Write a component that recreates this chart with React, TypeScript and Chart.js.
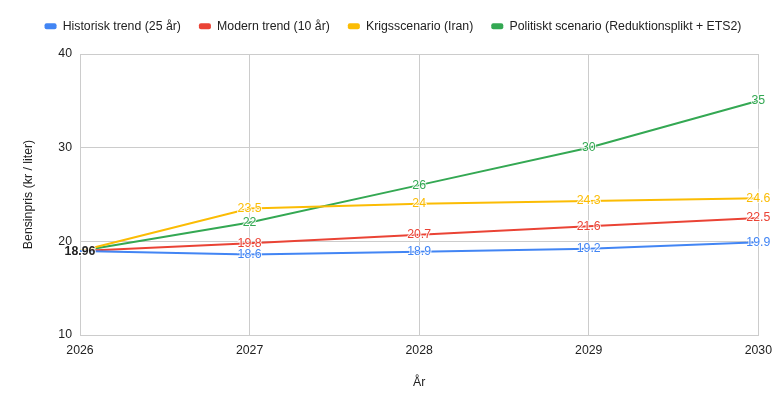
import React, { useEffect, useRef } from "react";
import { Chart, registerables } from "chart.js";

Chart.register(...registerables);

const years = ["2026", "2027", "2028", "2029", "2030"];
const historisk = [18.96, 18.6, 18.9, 19.2, 19.9];
const modern = [18.96, 19.8, 20.7, 21.6, 22.5];
const krig = [18.96, 23.5, 24, 24.3, 24.6];
const politiskt = [18.96, 22, 26, 30, 35];
const seriesNames = [
  "Historisk trend (25 år)",
  "Modern trend (10 år)",
  "Krigsscenario (Iran)",
  "Politiskt scenario (Reduktionsplikt + ETS2)",
];
const seriesColors = ["#4285F4", "#EA4335", "#FBBC04", "#34A853"];
const yTicks = [10, 20, 30, 40];

const FONT = "Arial, 'Liberation Sans', sans-serif";

const labelPlugin = {
  id: "pointLabels",
  afterDatasetsDraw(chart: any) {
    const ctx = chart.ctx;
    ctx.save();
    ctx.textAlign = "center";
    ctx.textBaseline = "middle";
    chart.data.datasets.forEach((ds: any, di: number) => {
      const meta = chart.getDatasetMeta(di);
      meta.data.forEach((pt: any, i: number) => {
        if (i === 0) return;
        const txt = String(ds.data[i]);
        ctx.font = `12.3px ${FONT}`;
        ctx.lineWidth = 2;
        ctx.strokeStyle = "rgba(255,255,255,0.8)";
        ctx.strokeText(txt, pt.x, pt.y);
        ctx.fillStyle = ds.borderColor;
        ctx.fillText(txt, pt.x, pt.y);
      });
    });
    const first = chart.getDatasetMeta(0).data[0];
    if (first) {
      const txt = String(chart.data.datasets[0].data[0]);
      ctx.font = `bold 12.3px ${FONT}`;
      ctx.lineWidth = 2;
      ctx.strokeStyle = "rgba(255,255,255,0.8)";
      ctx.strokeText(txt, first.x, first.y + 1);
      ctx.fillStyle = "#222222";
      ctx.fillText(txt, first.x, first.y + 1);
    }
    ctx.restore();
  },
};

const legendHeightPlugin = {
  id: "legendHeight",
  beforeUpdate(chart: any) {
    const lg = chart.legend;
    if (lg && !lg.__patched) {
      const orig = lg.fit;
      lg.fit = function () {
        orig.call(this);
        this.height = 52;
      };
      lg.__patched = true;
    }
  },
  afterLayout(chart: any) {
    const lg = chart.legend;
    if (lg) {
      lg.left = 13;
      lg.right = 773;
    }
  },
};

export default function App() {
  const ref = useRef<HTMLCanvasElement | null>(null);
  useEffect(() => {
    document.body.style.margin = "0";
    if (!ref.current) return;
    const allData = [historisk, modern, krig, politiskt];
    const chart = new Chart(ref.current, {
      type: "line",
      data: {
        labels: years,
        datasets: allData.map((d, i) => ({
          label: seriesNames[i],
          data: d,
          borderColor: seriesColors[i],
          backgroundColor: seriesColors[i],
          borderWidth: 2,
          pointRadius: 0,
          pointHoverRadius: 0,
          tension: 0,
          fill: false,
        })),
      },
      options: {
        responsive: false,
        animation: false,
        maintainAspectRatio: false,
        layout: { padding: { left: 0, right: 20, top: 2, bottom: 0 } },
        plugins: {
          tooltip: { enabled: false },
          legend: {
            position: "top",
            align: "center",
            labels: {
              boxWidth: 12,
              boxHeight: 6,
              padding: 18,
              color: "#222222",
              font: { family: FONT, size: 12.3 },
              useBorderRadius: true,
              borderRadius: 2,
              generateLabels(chart: any) {
                const items = Chart.defaults.plugins.legend.labels.generateLabels(chart);
                return items.map((it: any) => ({ ...it, lineWidth: 0, strokeStyle: "rgba(0,0,0,0)" }));
              },
            },
          },
        },
        scales: {
          x: {
            type: "category",
            offset: false,
            grid: { color: "#cccccc", drawTicks: false, lineWidth: 1 },
            border: { color: "#cccccc" },
            ticks: { color: "#222222", font: { family: FONT, size: 12.3 }, padding: 8, maxRotation: 0, autoSkip: false },
            title: {
              display: true,
              text: "År",
              color: "#222222",
              font: { family: FONT, size: 12.3 },
              padding: { top: 0, bottom: 18 },
            },
            afterFit(scale: any) {
              scale.height = 73;
            },
          },
          y: {
            min: yTicks[0],
            max: yTicks[yTicks.length - 1],
            grid: { color: "#cccccc", drawTicks: false, lineWidth: 1 },
            border: { color: "#cccccc" },
            ticks: {
              stepSize: 10,
              color: "#222222",
              font: { family: FONT, size: 12.3 },
              padding: 8,
            },
            afterBuildTicks(scale: any) {
              scale.ticks = yTicks.map((v) => ({ value: v }));
            },
            title: {
              display: true,
              text: "Bensinpris (kr / liter)",
              color: "#222222",
              font: { family: FONT, size: 12.3 },
              padding: { top: 21, bottom: 0 },
            },
            afterFit(scale: any) {
              scale.width = 80;
            },
          },
        },
      },
      plugins: [labelPlugin, legendHeightPlugin],
    } as any);
    return () => chart.destroy();
  }, []);
  return (
    <div style={{ position: "absolute", left: 0, top: 0, width: 780, height: 408, background: "#fff" }}>
      <canvas ref={ref} width={780} height={408} style={{ width: 780, height: 408, display: "block" }} />
    </div>
  );
}
